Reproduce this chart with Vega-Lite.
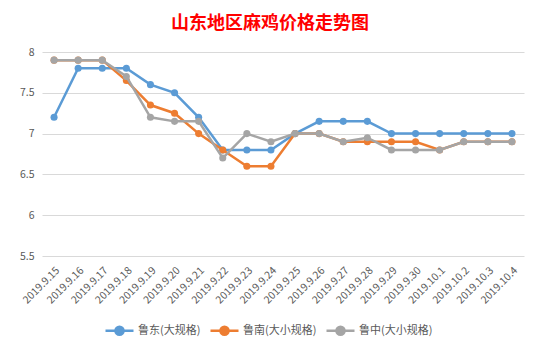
{
  "$schema": "https://vega.github.io/schema/vega-lite/v6.json",
  "autosize": {"type": "none"},
  "width": 482,
  "height": 204,
  "padding": {"left": 42, "top": 52, "right": 18, "bottom": 98},
  "background": "white",
  "title": {"text": "山东地区麻鸡价格走势图", "color": "#FF0000", "font": "Noto Sans CJK SC", "fontSize": 18, "fontWeight": "bold", "anchor": "middle", "dx": -13, "offset": 14},
  "config": {
    "view": {"stroke": null},
    "axis": {"labelFont": "Noto Sans CJK SC", "labelColor": "#595959", "labelFontSize": 10}
  },
  "data": {"values": [
    {"d":"2019.9.15","s":"鲁东(大规格)","v":7.2},{"d":"2019.9.16","s":"鲁东(大规格)","v":7.8},{"d":"2019.9.17","s":"鲁东(大规格)","v":7.8},{"d":"2019.9.18","s":"鲁东(大规格)","v":7.8},{"d":"2019.9.19","s":"鲁东(大规格)","v":7.6},{"d":"2019.9.20","s":"鲁东(大规格)","v":7.5},{"d":"2019.9.21","s":"鲁东(大规格)","v":7.2},{"d":"2019.9.22","s":"鲁东(大规格)","v":6.8},{"d":"2019.9.23","s":"鲁东(大规格)","v":6.8},{"d":"2019.9.24","s":"鲁东(大规格)","v":6.8},{"d":"2019.9.25","s":"鲁东(大规格)","v":7.0},{"d":"2019.9.26","s":"鲁东(大规格)","v":7.15},{"d":"2019.9.27","s":"鲁东(大规格)","v":7.15},{"d":"2019.9.28","s":"鲁东(大规格)","v":7.15},{"d":"2019.9.29","s":"鲁东(大规格)","v":7.0},{"d":"2019.9.30","s":"鲁东(大规格)","v":7.0},{"d":"2019.10.1","s":"鲁东(大规格)","v":7.0},{"d":"2019.10.2","s":"鲁东(大规格)","v":7.0},{"d":"2019.10.3","s":"鲁东(大规格)","v":7.0},{"d":"2019.10.4","s":"鲁东(大规格)","v":7.0},
    {"d":"2019.9.15","s":"鲁南(大小规格)","v":7.9},{"d":"2019.9.16","s":"鲁南(大小规格)","v":7.9},{"d":"2019.9.17","s":"鲁南(大小规格)","v":7.9},{"d":"2019.9.18","s":"鲁南(大小规格)","v":7.65},{"d":"2019.9.19","s":"鲁南(大小规格)","v":7.35},{"d":"2019.9.20","s":"鲁南(大小规格)","v":7.25},{"d":"2019.9.21","s":"鲁南(大小规格)","v":7.0},{"d":"2019.9.22","s":"鲁南(大小规格)","v":6.8},{"d":"2019.9.23","s":"鲁南(大小规格)","v":6.6},{"d":"2019.9.24","s":"鲁南(大小规格)","v":6.6},{"d":"2019.9.25","s":"鲁南(大小规格)","v":7.0},{"d":"2019.9.26","s":"鲁南(大小规格)","v":7.0},{"d":"2019.9.27","s":"鲁南(大小规格)","v":6.9},{"d":"2019.9.28","s":"鲁南(大小规格)","v":6.9},{"d":"2019.9.29","s":"鲁南(大小规格)","v":6.9},{"d":"2019.9.30","s":"鲁南(大小规格)","v":6.9},{"d":"2019.10.1","s":"鲁南(大小规格)","v":6.8},{"d":"2019.10.2","s":"鲁南(大小规格)","v":6.9},{"d":"2019.10.3","s":"鲁南(大小规格)","v":6.9},{"d":"2019.10.4","s":"鲁南(大小规格)","v":6.9},
    {"d":"2019.9.15","s":"鲁中(大小规格)","v":7.9},{"d":"2019.9.16","s":"鲁中(大小规格)","v":7.9},{"d":"2019.9.17","s":"鲁中(大小规格)","v":7.9},{"d":"2019.9.18","s":"鲁中(大小规格)","v":7.7},{"d":"2019.9.19","s":"鲁中(大小规格)","v":7.2},{"d":"2019.9.20","s":"鲁中(大小规格)","v":7.15},{"d":"2019.9.21","s":"鲁中(大小规格)","v":7.15},{"d":"2019.9.22","s":"鲁中(大小规格)","v":6.7},{"d":"2019.9.23","s":"鲁中(大小规格)","v":7.0},{"d":"2019.9.24","s":"鲁中(大小规格)","v":6.9},{"d":"2019.9.25","s":"鲁中(大小规格)","v":7.0},{"d":"2019.9.26","s":"鲁中(大小规格)","v":7.0},{"d":"2019.9.27","s":"鲁中(大小规格)","v":6.9},{"d":"2019.9.28","s":"鲁中(大小规格)","v":6.95},{"d":"2019.9.29","s":"鲁中(大小规格)","v":6.8},{"d":"2019.9.30","s":"鲁中(大小规格)","v":6.8},{"d":"2019.10.1","s":"鲁中(大小规格)","v":6.8},{"d":"2019.10.2","s":"鲁中(大小规格)","v":6.9},{"d":"2019.10.3","s":"鲁中(大小规格)","v":6.9},{"d":"2019.10.4","s":"鲁中(大小规格)","v":6.9}
  ]},
  "encoding": {
    "x": {"field": "d", "type": "ordinal", "sort": null, "scale": {"type": "point", "padding": 0.5},
      "axis": {"title": null, "labelAngle": -45, "domain": false, "ticks": false, "labelPadding": 9, "labelFontSize": 10.5}},
    "y": {"field": "v", "type": "quantitative", "scale": {"domain": [5.5, 8], "zero": false},
      "axis": {"title": null, "values": [5.5, 6, 6.5, 7, 7.5, 8], "format": "~g", "domain": false, "ticks": false, "gridColor": "#D9D9D9", "gridWidth": 1, "labelPadding": 8, "labelFontSize": 10.5}},
    "color": {"field": "s", "type": "nominal",
      "scale": {"domain": ["鲁东(大规格)", "鲁南(大小规格)", "鲁中(大小规格)"], "range": ["#5B9BD5", "#ED7D31", "#A5A5A5"]},
      "legend": {"title": null, "orient": "none", "direction": "horizontal", "legendX": 62, "legendY": 263,
        "labelFont": "Noto Sans CJK SC", "labelFontSize": 11, "labelColor": "#595959", "labelOffset": 3, "columnPadding": 4,
        "symbolType": "M-1,0L1,0M-0.29,0A0.29,0.29 0 1 1 0.29,0A0.29,0.29 0 1 1 -0.29,0Z", "symbolSize": 784, "symbolStrokeWidth": 2.5,
        "encode": {"symbols": {"update": {"fill": {"scale": "color", "field": "value"}, "stroke": {"scale": "color", "field": "value"}}}}}
    }
  },
  "layer": [
    {"transform": [{"filter": "datum.s === '鲁东(大规格)'"}], "mark": {"type": "line", "strokeWidth": 2.5, "point": {"filled": true, "size": 50}}},
    {"transform": [{"filter": "datum.s === '鲁南(大小规格)'"}], "mark": {"type": "line", "strokeWidth": 2.5, "point": {"filled": true, "size": 50}}},
    {"transform": [{"filter": "datum.s === '鲁中(大小规格)'"}], "mark": {"type": "line", "strokeWidth": 2.5, "point": {"filled": true, "size": 50}}}
  ]
}
